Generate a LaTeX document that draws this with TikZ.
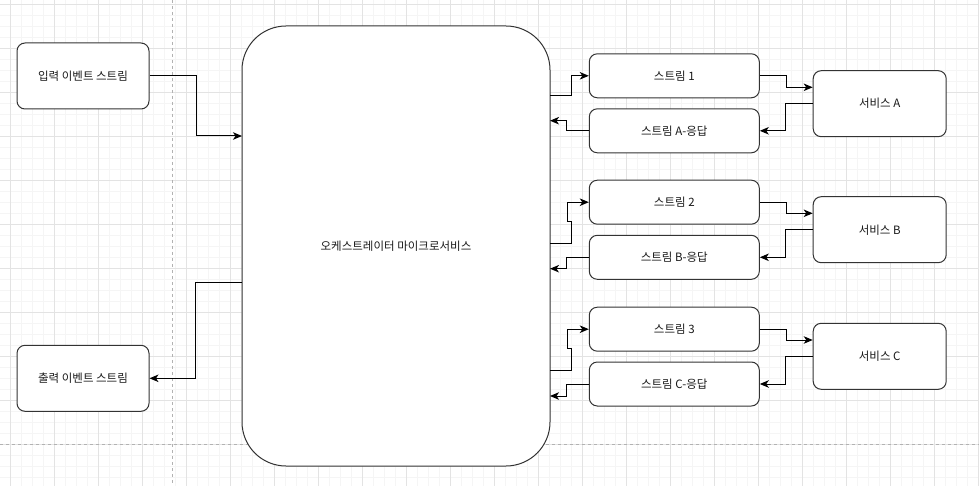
\documentclass[tikz,border=0pt]{standalone}
\usepackage{fontspec}
\setmainfont{Noto Sans CJK KR}
\usetikzlibrary{arrows.meta}

\tikzset{
    box/.style={draw=black!80, line width=1pt, rounded corners=8pt, fill=white,
        minimum width=170pt, minimum height=44pt, inner sep=0pt,
        font=\fontsize{11.5}{13}\selectfont, text=black!90},
    svc/.style={box, minimum width=133pt, minimum height=66pt},
    evt/.style={box, minimum width=132pt, minimum height=66pt},
    flow/.style={draw=black, line width=1pt, -{Stealth[length=9pt,width=7.5pt,inset=2.5pt]}},
    minorgrid/.style={draw=black!4, line width=0.8pt},
    majorgrid/.style={draw=black!11, line width=0.8pt},
    pagebreak/.style={draw=black!30, line width=0.8pt, dash pattern=on 3pt off 3pt},
}

\begin{document}
\begin{tikzpicture}[x=1pt, y=-1pt]
    \useasboundingbox (0,0) rectangle (979,486);
    \fill[white] (0,0) rectangle (979,486);
    % background grid
    \foreach \x in {-1,10,...,980} \draw[minorgrid] (\x,0) -- (\x,486);
    \foreach \y in {4,15,...,486} \draw[minorgrid] (0,\y) -- (979,\y);
    \foreach \x in {10,54,...,979} \draw[majorgrid] (\x,0) -- (\x,486);
    \foreach \y in {4,48,...,486} \draw[majorgrid] (0,\y) -- (979,\y);
    \draw[pagebreak] (172,0) -- (172,486);
    \draw[pagebreak] (0,444) -- (979,444);

    % event streams and orchestrator
    \node[evt] (inp) at (83,76) {입력 이벤트 스트림};
    \node[evt] (outp) at (83,378.3) {출력 이벤트 스트림};
    \node[box, rounded corners=44pt, minimum width=308pt, minimum height=440pt] (orch) at (396,246) {오케스트레이터 마이크로서비스};

    % streams
    \node[box] (s1) at (674.3,75.8) {스트림 1};
    \node[box] (ra) at (674.3,130.8) {스트림 A-응답};
    \node[box] (s2) at (674.3,202.2) {스트림 2};
    \node[box] (rb) at (674.3,257.3) {스트림 B-응답};
    \node[box] (s3) at (674.3,329.2) {스트림 3};
    \node[box] (rc) at (674.3,384) {스트림 C-응답};

    % services
    \node[svc] (sa) at (879.7,103.7) {서비스 A};
    \node[svc] (sb) at (879.7,229.7) {서비스 B};
    \node[svc] (sc) at (879.7,356.3) {서비스 C};

    % ends on the orchestrator
    \coordinate (oi) at (242,136);
    \coordinate (oo) at (242,282.3);
    \coordinate (o1) at (550,95.7);
    \coordinate (o1r) at (550,120.7);
    \coordinate (o2) at (550,243.3);
    \coordinate (o2r) at (550,268.7);
    \coordinate (o3) at (550,370);
    \coordinate (o3r) at (550,396);

    % left side
    \draw[flow] (inp.east) -- ++(46.7,0) |- (oi);
    \draw[flow] (oo) -- ++(-46.3,0) |- (outp);

    % group A
    \draw[flow] (o1) -- ++(21.7,0) |- (s1);
    \draw[flow] (ra.west) -- ++(-22.7,0) |- (o1r);
    \draw[flow] (s1.east) -- ++(27,0) |- ([yshift=16.4pt]sa.west);
    \draw[flow] (sa.west) -- ++(-27.3,0) |- (ra);

    % group B
    \draw[flow] (o2) -- ++(21.7,0) -- ++(0,-21.6) -- ++(-4,0) |- (s2);
    \draw[flow] (rb.west) -- ++(-22.7,0) |- (o2r);
    \draw[flow] (s2.east) -- ++(27,0) |- ([yshift=16.4pt]sb.west);
    \draw[flow] (sb.west) -- ++(-27.3,0) |- (rb);

    % group C
    \draw[flow] (o3) -- ++(21.7,0) -- ++(0,-21.7) -- ++(-4,0) |- (s3);
    \draw[flow] (rc.west) -- ++(-22.7,0) |- (o3r);
    \draw[flow] (s3.east) -- ++(27,0) |- ([yshift=16.3pt]sc.west);
    \draw[flow] (sc.west) -- ++(-27.3,0) |- (rc);
\end{tikzpicture}
\end{document}
